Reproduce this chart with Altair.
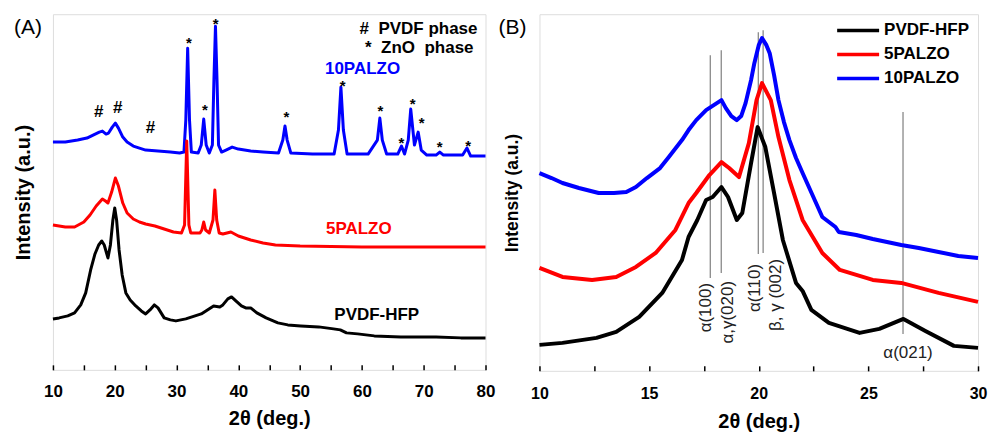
import altair as alt
import pandas as pd

FONT = "Liberation Sans"
NB = "\u00a0"

# ---------------- Panel A (2theta 10-80) : intensity in arbitrary units ----------------
a_blue_x = [10.0, 12.0, 14.0, 15.5, 16.5, 17.5, 18.0, 18.6, 19.0, 19.6, 20.1, 20.6, 21.3, 22.0, 23.0,
            24.0, 25.0, 27.0, 29.0, 30.5, 31.2, 31.5, 31.8, 32.1, 32.4, 33.5, 34.0, 34.4, 34.8, 35.3,
            35.8, 36.05, 36.3, 36.55, 36.8, 37.3, 38.0, 39.0, 40.0, 42.0, 44.0, 46.5, 47.2, 47.55, 47.9,
            48.5, 52.0, 55.5, 56.2, 56.6, 57.0, 57.6, 61.0, 62.5, 62.9, 63.3, 64.0, 65.8, 66.4, 66.9,
            67.5, 67.9, 68.5, 69.1, 69.6, 70.5, 72.0, 72.6, 73.2, 76.3, 77.0, 77.6, 80.0]
a_blue_y = [228, 228, 230, 232, 235, 238, 239, 236, 237, 243, 247, 242, 233, 228, 224,
            222, 220, 219, 218, 217, 218, 250, 322, 250, 218, 217, 225, 251, 225, 217,
            225, 290, 344, 290, 225, 218, 220, 223, 221, 219, 218, 217, 230, 244, 230,
            217, 216, 216, 240, 283, 240, 216, 216, 230, 252, 230, 216, 216, 224, 216,
            230, 261, 225, 238, 220, 215, 215, 218, 215, 215, 222, 214, 214]

a_red_x = [10.0, 12.0, 13.5, 15.0, 16.0, 17.0, 18.0, 18.5, 18.9, 19.5, 20.1, 20.6, 21.3, 22.0, 23.0,
           24.0, 25.0, 26.5, 28.0, 29.5, 30.8, 31.3, 31.65, 32.0, 32.3, 33.8, 34.1, 34.4, 34.7, 35.3,
           35.9, 36.2, 36.5, 36.9, 37.5, 38.8, 40.0, 42.0, 44.0, 46.0, 50.0, 60.0, 70.0, 80.0]
a_red_y = [145, 143, 143, 148, 155, 164, 171, 169, 167, 178, 192, 184, 167, 157, 151,
           148, 146, 144, 141, 138, 137, 145, 229, 145, 137, 137, 140, 148, 140, 137,
           150, 180, 150, 137, 136, 138, 134, 130, 127, 125, 124, 123, 123, 123]

a_black_x = [10.0, 11.0, 12.4, 13.5, 14.5, 15.3, 16.1, 16.8, 17.4, 17.9, 18.3, 18.9, 19.3, 19.7, 20.0,
             20.3, 20.7, 21.2, 21.8, 22.5, 23.4, 24.3, 25.0, 25.7, 26.4, 27.0, 28.0, 29.0, 29.9, 31.5,
             33.0, 34.0, 35.0, 36.0, 37.0, 37.5, 38.3, 38.9, 39.6, 40.5, 41.2, 42.0, 43.0, 44.5, 46.4,
             48.0, 50.1, 53.0, 55.4, 56.5, 57.5, 59.3, 62.0, 66.3, 72.0, 76.0, 80.0]
a_black_y = [51, 52, 54, 57, 65, 77, 100, 116, 125, 129, 125, 112, 125, 150, 162,
             150, 120, 95, 77, 70, 64, 59, 56, 60, 65, 62, 52, 50, 49, 51,
             54, 56, 60, 64, 63, 65, 71, 73, 69, 64, 62, 62, 57, 52, 47,
             45, 44, 43, 41, 40, 37, 36, 34, 33, 33, 32, 32]

a_hash_x = [17.4, 20.5, 25.8]
a_hash_y = [258, 262, 242]
a_star_x = [32.0, 34.6, 36.35, 47.8, 56.9, 63.0, 66.4, 68.2, 69.65, 72.6, 77.2]
a_star_y = [331, 264, 350, 257, 288, 263, 231, 270, 251, 227, 228]

a_note_text = ["#" + NB + NB + "PVDF phase", "*" + NB + NB + "ZnO" + NB + NB + "phase"]
a_note_x = [78.7, 78.06]
a_note_y = [341, 322]

a_name_text = ["10PALZO", "5PALZO", "PVDF-HFP"]
a_name_x = [60.1, 59.5, 62.4]
a_name_y = [301, 141, 55]

# ---------------- Panel B (2theta 10-30) ----------------
b_blue_x = [10.0, 10.55, 11.05, 11.8, 12.7, 13.4, 13.96, 14.4, 14.9, 15.5, 15.9, 16.5, 16.8, 17.15, 17.6,
            17.95, 18.3, 18.5, 18.75, 19.0, 19.2, 19.4, 19.65, 19.8, 20.0, 20.15, 20.35, 20.5, 20.7, 20.9,
            21.15, 21.4, 21.7, 22.0, 22.45, 22.9, 23.2, 23.5, 23.65, 24.45, 25.2, 25.85, 26.5, 27.3, 28.2,
            29.1, 30.0]
b_blue_y = [198, 193, 188, 183, 178, 178, 179, 184, 193, 203, 214, 231, 241, 251, 261,
            266, 271, 263, 255, 251, 255, 268, 291, 308, 326, 333, 326, 318, 296, 271,
            249, 231, 213, 198, 176, 154, 149, 144, 139, 136, 132, 129, 126, 123, 119,
            115, 113]

b_red_x = [10.0, 11.05, 12.4, 13.5, 14.4, 15.3, 16.2, 16.8, 17.15, 17.75, 18.3, 18.65, 19.1, 19.55, 19.9,
           20.15, 20.55, 20.9, 21.4, 22.0, 22.9, 23.7, 25.2, 26.5, 28.2, 30.0]
b_red_y = [103, 94, 91, 94, 104, 118, 141, 168, 178, 196, 209, 203, 194, 228, 271,
           288, 271, 234, 191, 151, 118, 101, 91, 88, 78, 69]

b_black_x = [10.0, 11.05, 12.6, 13.5, 14.55, 15.6, 16.5, 16.8, 17.2, 17.6, 17.9, 18.3, 18.6, 19.0, 19.25,
             19.65, 19.95, 20.3, 20.7, 21.1, 21.7, 22.0, 22.4, 23.2, 24.6, 25.5, 26.6, 27.6, 28.9, 30.0]
b_black_y = [26, 28, 33, 39, 54, 78, 111, 134, 151, 171, 174, 184, 174, 151, 158,
             208, 244, 224, 178, 131, 88, 80, 61, 48, 38, 42, 52, 40, 25, 23]

series_names = ["PVDF-HFP", "5PALZO", "10PALZO"]
series_colors = ["#000000", "#ff0000", "#0000ff"]

b_ref_x = [17.79, 18.29, 19.98, 20.2, 26.58]
b_ref_top = [316, 321, 339, 341, 259]
b_ref_bottom = [93, 98, 117, 118, 37]

b_peak_text = ["α(100)", "α,γ(020)", "α(110)", "β, γ (002)"]
b_peak_x = [17.61, 18.61, 19.84, 20.8]
b_peak_y = [88, 90, 107, 112]
b_peak2_text = ["α(021)"]
b_peak2_x = [26.81]
b_peak2_y = [18]

# ---------------- helpers ----------------
def xenc(domain, values, step, title, lab_size, title_size, lab_pad, title_pad):
    return alt.X("x:Q",
                 scale=alt.Scale(domain=domain, nice=False, zero=False),
                 axis=alt.Axis(title=title, values=values,
                               labelExpr=f"datum.value % {step} == 0 ? datum.label : ''",
                               tickSize=5, offset=-5, domain=False, grid=False,
                               tickColor="black", tickWidth=1.5,
                               labelFont=FONT, labelFontSize=lab_size, labelFontWeight="bold",
                               labelColor="black", labelPadding=lab_pad, labelFlush=False,
                               labelOverlap=False, labelBound=False,
                               titleFont=FONT, titleFontSize=title_size, titleFontWeight="bold",
                               titleColor="black", titlePadding=title_pad))


def yenc(domain, title_size, title_pad):
    return alt.Y("y:Q",
                 scale=alt.Scale(domain=domain, nice=False, zero=False),
                 axis=alt.Axis(title="Intensity (a.u.)", labels=False, ticks=False, domain=False,
                               grid=False, titleFont=FONT, titleFontSize=title_size,
                               titleFontWeight="bold", titleColor="black", titlePadding=title_pad))


# ---------------- Panel A ----------------
XA = xenc([10, 80], list(range(10, 81, 5)), 10, "2θ (deg.)", 17, 20, 14, 9)
YA = yenc([0, 356], 20, 19)

def a_line(xs, ys, color):
    df = pd.DataFrame({"x": xs, "y": ys})
    return alt.Chart(df).mark_line(color=color, strokeWidth=3, strokeJoin="round").encode(x=XA, y=YA)

a_lines = [a_line(a_blue_x, a_blue_y, "#0000ff"),
           a_line(a_red_x, a_red_y, "#ff0000"),
           a_line(a_black_x, a_black_y, "#000000")]

a_hash = alt.Chart(pd.DataFrame({"x": a_hash_x, "y": a_hash_y, "t": ["#"] * len(a_hash_x)})).mark_text(
    font=FONT, fontSize=17, fontWeight="bold", color="black", baseline="middle").encode(x=XA, y=YA, text="t:N")
a_star = alt.Chart(pd.DataFrame({"x": a_star_x, "y": a_star_y, "t": ["*"] * len(a_star_x)})).mark_text(
    font=FONT, fontSize=15, fontWeight="bold", color="black", baseline="middle", dy=4).encode(x=XA, y=YA, text="t:N")
a_note = alt.Chart(pd.DataFrame({"x": a_note_x, "y": a_note_y, "t": a_note_text})).mark_text(
    font=FONT, fontSize=17, fontWeight="bold", color="black", baseline="middle", align="right").encode(
    x=XA, y=YA, text="t:N")
a_names = alt.Chart(pd.DataFrame({"x": a_name_x, "y": a_name_y, "t": a_name_text,
                                  "c": ["#0000ff", "#ff0000", "#000000"]})).mark_text(
    font=FONT, fontSize=17, fontWeight="bold", baseline="middle", align="center").encode(
    x=XA, y=YA, text="t:N", color=alt.Color("c:N", scale=None))
a_tag = alt.Chart(pd.DataFrame({"t": ["(A)"]})).mark_text(
    font=FONT, fontSize=21, color="black", baseline="middle", align="center").encode(
    x=alt.value(-25), y=alt.value(14), text="t:N")

panel_a = alt.layer(*a_lines, a_hash, a_star, a_note, a_names, a_tag).properties(width=433, height=356)

# ---------------- Panel B ----------------
XB = xenc([10, 30], [10 + 2.5 * i for i in range(9)], 5, "2θ (deg.)", 16, 20, 15, 10)
YB = yenc([0, 357], 17.5, 18)

COLOR = alt.Color("series:N",
                  scale=alt.Scale(domain=series_names, range=series_colors),
                  legend=alt.Legend(title=None, orient="none", legendX=783, legendY=4.5,
                                    symbolType="stroke", symbolSize=1764, symbolStrokeWidth=3.5,
                                    labelFont=FONT, labelFontSize=17, labelFontWeight="bold",
                                    labelColor="black", labelOffset=3, rowPadding=0,
                                    clipHeight=23.5, padding=0))

def b_line(xs, ys, name):
    df = pd.DataFrame({"x": xs, "y": ys, "series": [name] * len(xs)})
    return alt.Chart(df).mark_line(strokeWidth=4, strokeJoin="round").encode(x=XB, y=YB, color=COLOR)

b_refs = alt.Chart(pd.DataFrame({"x": b_ref_x, "y": b_ref_top, "y2": b_ref_bottom})).mark_rule(
    color="#7f7f7f", strokeWidth=1.2).encode(x=XB, y=YB, y2="y2:Q")

b_lines = [b_line(b_black_x, b_black_y, "PVDF-HFP"),
           b_line(b_red_x, b_red_y, "5PALZO"),
           b_line(b_blue_x, b_blue_y, "10PALZO")]

b_peaks = alt.Chart(pd.DataFrame({"x": b_peak_x, "y": b_peak_y, "t": b_peak_text})).mark_text(
    font=FONT, fontSize=17, color="#222222", angle=270, align="right", baseline="middle").encode(
    x=XB, y=YB, text="t:N")
b_peak2 = alt.Chart(pd.DataFrame({"x": b_peak2_x, "y": b_peak2_y, "t": b_peak2_text})).mark_text(
    font=FONT, fontSize=17, color="#222222", align="center", baseline="middle").encode(
    x=XB, y=YB, text="t:N")
b_tag = alt.Chart(pd.DataFrame({"t": ["(B)"]})).mark_text(
    font=FONT, fontSize=21, color="black", baseline="middle", align="center").encode(
    x=alt.value(-27), y=alt.value(14), text="t:N")

panel_b = alt.layer(b_refs, *b_lines, b_peaks, b_peak2, b_tag).properties(width=439, height=357)

chart = alt.hconcat(panel_a, panel_b, spacing=54, bounds="flush").properties(
    padding={"left": 13, "top": 13, "right": 0, "bottom": 0}
).configure_view(stroke="black", strokeWidth=2).configure(background="white")

chart.save("out.html", embed_options={"renderer": "svg", "actions": False})
